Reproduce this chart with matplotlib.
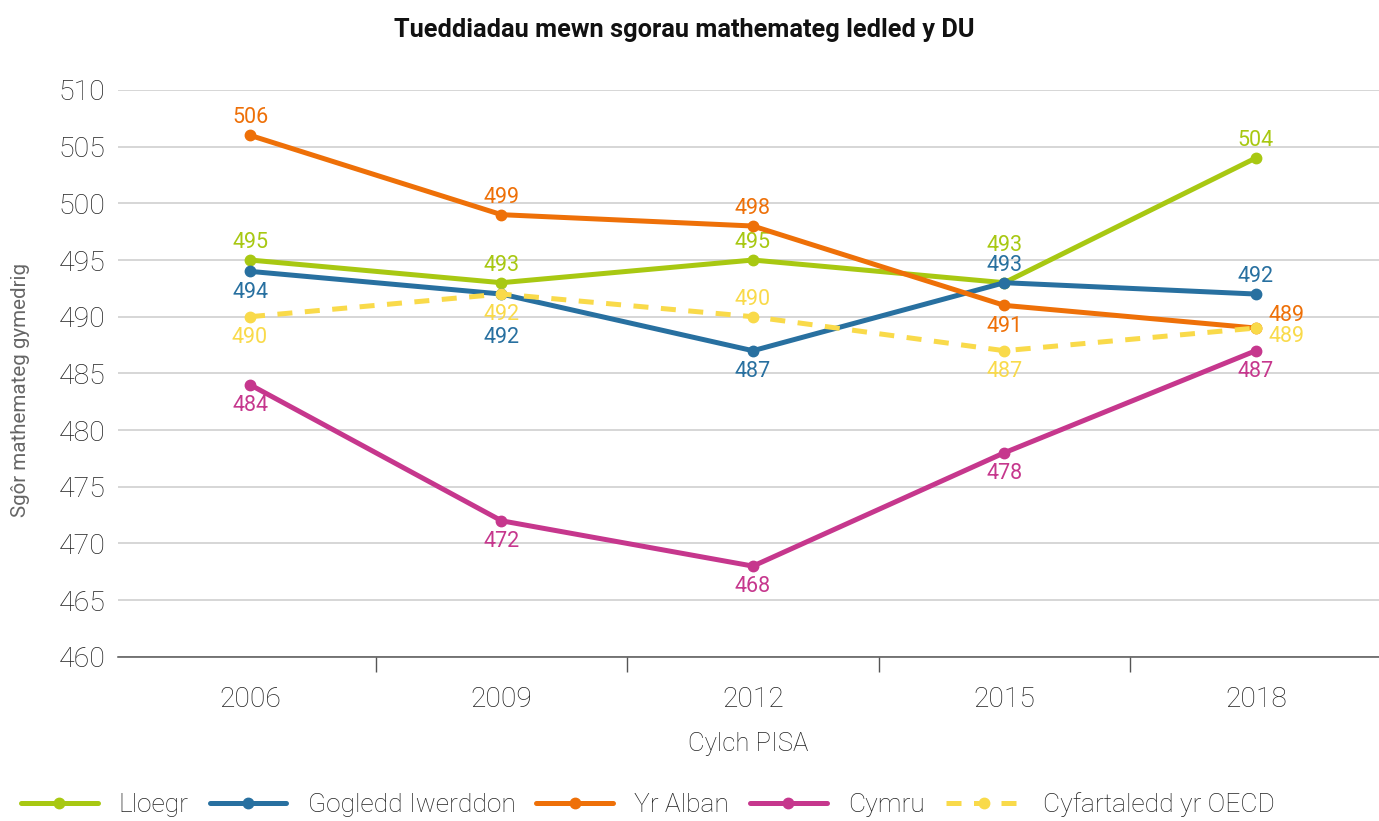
import matplotlib
matplotlib.use("Agg")
import matplotlib.pyplot as plt
from matplotlib.ticker import FixedLocator

plt.rcParams['font.family'] = ['Roboto', 'DejaVu Sans']

years = ["2006", "2009", "2012", "2015", "2018"]
lloegr = [495, 493, 495, 493, 504]
gogledd_iwerddon = [494, 492, 487, 493, 492]
yr_alban = [506, 499, 498, 491, 489]
cymru = [484, 472, 468, 478, 487]
oecd = [490, 492, 490, 487, 489]

# label placement per point (a=above, aa=further above, b=below, bb=further below, ru/rd=right)
series = [
    ("Lloegr", lloegr, "#A8C812", "-", ["a", "a", "a", "aa", "a"]),
    ("Gogledd Iwerddon", gogledd_iwerddon, "#2870A0", "-", ["b", "bb", "b", "a", "a"]),
    ("Yr Alban", yr_alban, "#EE7008", "-", ["a", "a", "a", "b", "ru"]),
    ("Cymru", cymru, "#C6378D", "-", ["b", "b", "b", "b", "b"]),
    ("Cyfartaledd yr OECD", oecd, "#F9DA4A", "--", ["b", "b", "a", "b", "rd"]),
]
offsets = {"a": (0, 12.5), "aa": (0, 27), "b": (0, -15), "bb": (0, -31),
           "ru": (9, 9), "rd": (9, -6)}

fig = plt.figure(figsize=(13.79, 8.21), dpi=100)
ax = fig.add_axes([0.0856, 0.2, 0.9144, 0.6904])

x = list(range(len(years)))
handles = []
for name, vals, col, ls, pos in series:
    h, = ax.plot(x, vals, color=col, lw=3.6, ls=ls, marker="o", ms=7.5,
                 dashes=(3, 2.5) if ls == "--" else (None, None),
                 label=name, zorder=3, solid_capstyle="round")
    handles.append(h)
    for xi, v, p in zip(x, vals, pos):
        dx, dy = offsets[p]
        ax.annotate(str(v), (xi, v), xytext=(dx, dy), textcoords="offset points",
                    ha="left" if p.startswith("r") else "center", va="center",
                    color=col, fontsize=15.5)

ax.set_xlim(-0.525, 4.49)
ax.set_ylim(460, 510)
ax.set_yticks(range(460, 511, 5))
ax.set_xticks(x)
ax.set_xticklabels(years)
ax.xaxis.set_minor_locator(FixedLocator([0.5, 1.5, 2.5, 3.5]))
ax.tick_params(axis="x", which="major", length=0, pad=21, labelsize=20.3, labelcolor="#222222")
ax.tick_params(axis="x", which="minor", length=11, width=1, color="#555555", direction="out")
ax.tick_params(axis="y", length=0, pad=9, labelsize=20.5, labelcolor="#222222")
for lab in ax.get_yticklabels() + ax.get_xticklabels():
    lab.set_fontweight("light")
ax.grid(axis="y", color="#cccccc", lw=1.1)
ax.set_axisbelow(True)
for s in ["top", "right", "left"]:
    ax.spines[s].set_visible(False)
ax.spines["bottom"].set_color("#555555")
ax.spines["bottom"].set_linewidth(1.1)

ax.set_xlabel("Cylch PISA", fontsize=18.5, color="#222222", labelpad=14, fontweight="light")
ax.set_ylabel("Sgôr mathemateg gymedrig", fontsize=14.8, color="#666666", labelpad=18)
ax.yaxis.set_label_coords(-0.07, 0.471)

fig.text(0.496, 0.963, "Tueddiadau mewn sgorau mathemateg ledled y DU", ha="center", va="center",
         fontsize=18.3, fontweight="bold", color="#111111")

leg = fig.legend(handles=handles, loc="center", bbox_to_anchor=(0.47, 0.02), ncol=5,
                 frameon=False, fontsize=19, handlelength=2.9, handletextpad=0.8,
                 columnspacing=0.8)
for t in leg.get_texts():
    t.set_color("#222222")
    t.set_fontweight("light")

fig.savefig("out.png", dpi=100)
